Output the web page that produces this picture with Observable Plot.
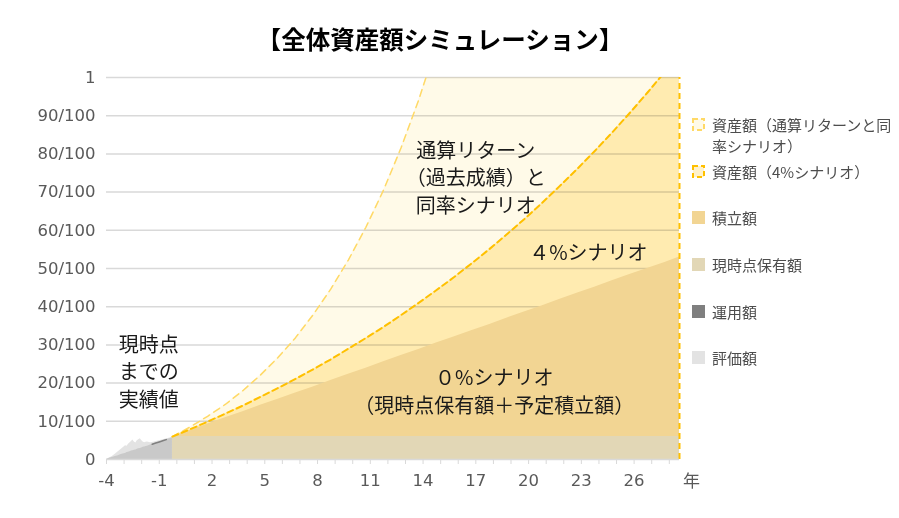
<!DOCTYPE html>
<html><head><meta charset="utf-8">
<script src="https://cdn.jsdelivr.net/npm/d3@7"></script>
<script src="https://cdn.jsdelivr.net/npm/@observablehq/plot@0.6"></script>
<style>
body{margin:0;background:#fff;font-family:"Noto Sans CJK JP","Noto Sans",sans-serif;}
#wrap{position:relative;width:899px;height:518px;overflow:hidden;}
#title{height:60px;box-sizing:border-box;padding-top:23px;padding-right:19px;text-align:center;font-size:24.5px;font-weight:bold;line-height:32px;color:#000;}
.lg{position:absolute;left:692px;display:flex;align-items:flex-start;font-size:15px;line-height:21px;color:#4d4d4d;white-space:pre-line;}
.lg svg{margin-top:4px;margin-right:7px;flex:none;}
</style></head>
<body><div id="wrap"><div id="title">【全体資産額シミュレーション】</div><div id="chart"></div></div>
<script>
// ---- data (values as fraction of target: 0 .. 1) ----
const projYears = [-0.25,0.75,1.75,2.75,3.75,4.75,5.75,6.75,7.75,8.75,9.75,10.75,11.75,12.75,13.75,14.75,15.75,16.75,17.75,18.75,19.75,20.75,21.75,22.75,23.75,24.75,25.75,26.75,27.75,28.58];
const returnScenario = [0.060,0.085,0.113,0.144,0.180,0.221,0.267,0.319,0.379,0.446,0.522,0.608,0.705,0.816,0.941,1.083,1.244,1.426,1.632,1.866,2.131,2.431,2.771,3.156,3.592,4.087,4.647,5.282,6.001,6.671];
const scenario4 = [0.060,0.079,0.099,0.120,0.141,0.164,0.187,0.211,0.236,0.262,0.290,0.318,0.347,0.378,0.410,0.443,0.477,0.513,0.550,0.589,0.629,0.671,0.715,0.760,0.807,0.856,0.907,0.960,1.015,1.063];
const accumulated = [0.060,0.076,0.093,0.109,0.125,0.142,0.158,0.174,0.190,0.207,0.223,0.239,0.256,0.272,0.288,0.305,0.321,0.337,0.353,0.370,0.386,0.402,0.419,0.435,0.451,0.468,0.484,0.500,0.516,0.530];
const currentHolding = 0.06;

const actualYears = [-4.00,-3.83,-3.67,-3.50,-3.33,-3.17,-3.00,-2.92,-2.83,-2.75,-2.67,-2.58,-2.50,-2.42,-2.33,-2.25,-2.17,-2.08,-2.00,-1.92,-1.83,-1.75,-1.67,-1.50,-1.33,-1.17,-1.00,-0.83,-0.67,-0.50,-0.25];
const evaluation = [0.000,0.004,0.008,0.014,0.020,0.026,0.033,0.036,0.035,0.040,0.043,0.047,0.051,0.046,0.043,0.049,0.052,0.054,0.050,0.046,0.044,0.045,0.046,0.044,0.045,0.047,0.049,0.051,0.053,0.055,0.058];
const principal = [0.000,0.003,0.005,0.008,0.010,0.013,0.015,0.016,0.018,0.019,0.020,0.022,0.023,0.024,0.025,0.027,0.028,0.029,0.030,0.032,0.033,0.034,0.035,0.038,0.041,0.043,0.046,0.048,0.051,0.053,0.057];
const operatingYears = [-1.40,-1.20,-1.00,-0.80,-0.60];
const operating = [0.040,0.043,0.046,0.049,0.052];

const yTicks = [0,0.1,0.2,0.3,0.4,0.5,0.6,0.7,0.8,0.9,1];
const yTickLabels = ["0","10/100","20/100","30/100","40/100","50/100","60/100","70/100","80/100","90/100","1"];
const xTicks = d3.range(-4, 29);
const xLabelYears = [-4,-1,2,5,8,11,14,17,20,23,26];
const xEnd = 28.58;

const annotations = [
  {text:"通算リターン\n（過去成績）と\n同率シナリオ", year:17.0, value:0.741},
  {text:"４%シナリオ", year:23.4, value:0.545},
  {text:"０%シナリオ\n（現時点保有額＋予定積立額）", year:18.05, value:0.182},
  {text:"現時点\nまでの\n実績値", year:-1.6, value:0.233}
];

const legendLabels = ["資産額（通算リターンと同\n率シナリオ）","資産額（4%シナリオ）","積立額","現時点保有額","運用額","評価額"];
const legendFills = ["#FFFAE8","#FFF2CC","#F2D593","#E2D7B6","#7F7F7F","#E3E3E3"];
const legendStrokes = ["#FFD966","#FFC000",null,null,null,null];

// ---- tables ----
const proj = projYears.map((year,i)=>({year, ret:returnScenario[i], p4:scenario4[i], acc:accumulated[i], hold:currentHolding}));
const actual = actualYears.map((year,i)=>({year, ev:evaluation[i], pr:principal[i]}));
const oper = operatingYears.map((year,i)=>({year, v:operating[i]}));
const labelMap = new Map(yTicks.map((t,i)=>[t,yTickLabels[i]]));
const font = "Noto Sans CJK JP";
const numFont = "DejaVu Sans";

const chart = Plot.plot({
  width: 899, height: 458,
  marginLeft: 106, marginRight: 220, marginTop: 17, marginBottom: 59,
  x: {domain:[-4, xEnd]},
  y: {domain:[0,1]},
  style: {fontFamily: font, background: "transparent"},
  marks: [
    Plot.areaY(proj, {x:"year", y:"ret", fill:"#FFFAE8", clip:true}),
    Plot.areaY(proj, {x:"year", y:"p4", fill:"#FFEBB0", clip:true}),
    Plot.ruleY(yTicks.slice(1), {stroke:"#d9d9d9", strokeWidth:1.5, mixBlendMode:"multiply"}),
    Plot.areaY(proj, {x:"year", y:"acc", fill:"#F2D593"}),
    Plot.areaY(proj, {x:"year", y:"hold", fill:"#E2D7B6"}),
    Plot.areaY(actual, {x:"year", y:"ev", fill:"#E3E3E3"}),
    Plot.areaY(actual, {x:"year", y:"pr", fill:"#C9C9C9"}),
    Plot.line(oper, {x:"year", y:"v", stroke:"#7F7F7F", strokeWidth:1.5}),
    Plot.line(proj, {x:"year", y:"ret", stroke:"#FFD966", strokeWidth:1.5, strokeDasharray:"7,5", clip:true}),
    Plot.line(proj, {x:"year", y:"p4", stroke:"#FFC000", strokeWidth:2, strokeDasharray:"6,4", clip:true}),
    Plot.ruleX([xEnd], {y1:0, y2:1, stroke:"#FFC000", strokeWidth:2, strokeDasharray:"6,4"}),
    Plot.ruleY([0], {stroke:"#d9d9d9", strokeWidth:1.5}),
    Plot.axisX({ticks:xTicks, tickSize:5, tickPadding:10, stroke:"#d9d9d9", fill:"#595959", fontSize:16.5, fontFamily:numFont,
      tickFormat: d => xLabelYears.includes(d) ? String(d) : "", label:null}),
    Plot.axisY({ticks:yTicks, tickSize:0, tickPadding:11, fill:"#595959", fontSize:16.5, fontFamily:numFont,
      tickFormat: d => labelMap.get(d), label:null}),
    Plot.text(["年"], {x:xEnd, y:0, dx:12, dy:22, fill:"#595959", fontSize:17}),
    Plot.text(annotations, {x:"year", y:"value", text:"text", fill:"#1a1a1a", fontSize:20, lineHeight:1.38})
  ]
});
document.getElementById("chart").appendChild(chart);

// ---- legend ----
const wrap = document.getElementById("wrap");
const legendTops = [114, 161, 207, 254, 301, 347];
legendLabels.forEach((lab,i)=>{
  const d = document.createElement("div");
  d.className = "lg";
  d.style.top = legendTops[i] + "px";
  const s = legendStrokes[i];
  d.innerHTML = `<svg width="13" height="13">${s
    ? `<rect x="1" y="1" width="11" height="11" fill="${legendFills[i]}" stroke="${s}" stroke-width="2" stroke-dasharray="5,3"/>`
    : `<rect x="0" y="0" width="13" height="13" fill="${legendFills[i]}"/>`}</svg><span></span>`;
  d.querySelector("span").textContent = lab;
  wrap.appendChild(d);
});
</script>
</body></html>
